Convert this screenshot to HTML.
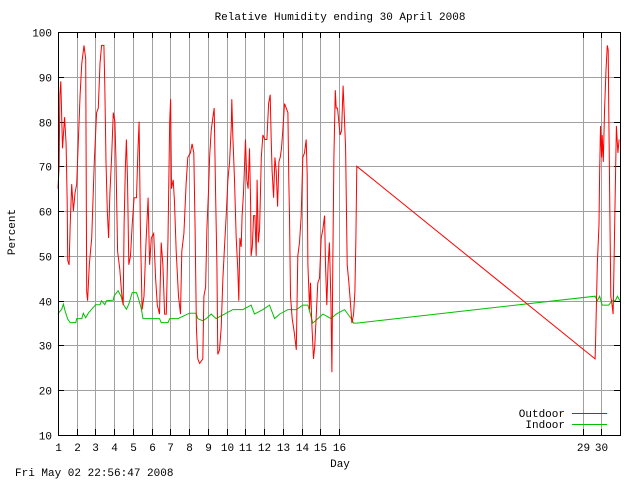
<!DOCTYPE html>
<html><head><meta charset="utf-8"><style>
body{margin:0;background:#fff;}
svg text{font-family:"Liberation Mono","DejaVu Sans Mono",monospace;font-size:11px;fill:#000;}
</style></head><body>
<svg id="chart" width="640" height="480" xmlns="http://www.w3.org/2000/svg">
<rect width="640" height="480" fill="#fff"/>
<text x="340" y="20" text-anchor="middle">Relative Humidity ending 30 April 2008</text>
<text x="15" y="232" text-anchor="middle" transform="rotate(-90 15 232)">Percent</text>
<text x="340" y="467" text-anchor="middle">Day</text>
<text x="15" y="476">Fri May 02 22:56:47 2008</text>
<g id="grid"></g>
<g id="series"></g>
<rect x="58.5" y="32.5" width="562" height="403" fill="none" stroke="#000"/>
<g>
<text x="565" y="417" text-anchor="end">Outdoor</text>
<line x1="572" y1="413.5" x2="607" y2="413.5" stroke="#ff0000"/>
<text x="565" y="428" text-anchor="end">Indoor</text>
<line x1="572" y1="424.5" x2="607" y2="424.5" stroke="#00c000"/>
</g>
</svg>
<script>
const yTicks=[10,20,30,40,50,60,70,80,90,100];
const xTickDays=[1,2,3,4,5,6,7,8,9,10,11,12,13,14,15,16,29,30];
const outdoorDays=[1.0,1.06,1.1,1.15,1.24,1.35,1.43,1.49,1.52,1.59,1.65,1.73,1.82,1.91,2.0,2.05,2.18,2.27,2.39,2.48,2.53,2.58,2.67,2.80,2.94,3.06,3.15,3.24,3.33,3.45,3.50,3.56,3.63,3.70,3.77,3.86,3.95,4.04,4.09,4.18,4.30,4.39,4.48,4.53,4.60,4.65,4.71,4.78,4.87,4.96,5.06,5.19,5.27,5.33,5.40,5.49,5.59,5.70,5.81,5.89,5.98,6.11,6.21,6.30,6.42,6.51,6.60,6.69,6.78,6.87,6.96,7.01,7.06,7.15,7.22,7.31,7.43,7.54,7.61,7.72,7.84,7.93,8.07,8.16,8.25,8.32,8.39,8.46,8.56,8.73,8.79,8.88,8.95,9.04,9.09,9.18,9.27,9.34,9.41,9.48,9.53,9.62,9.71,9.80,9.89,9.98,10.07,10.16,10.25,10.28,10.33,10.42,10.51,10.60,10.65,10.71,10.78,10.83,10.90,11.01,11.08,11.15,11.22,11.28,11.31,11.37,11.44,11.51,11.58,11.63,11.69,11.76,11.85,11.94,12.04,12.15,12.24,12.33,12.38,12.43,12.51,12.58,12.65,12.72,12.79,12.86,12.93,13.00,13.09,13.18,13.27,13.32,13.36,13.41,13.50,13.61,13.72,13.80,13.89,13.98,14.07,14.16,14.25,14.30,14.34,14.43,14.48,14.55,14.64,14.71,14.78,14.87,14.96,15.05,15.14,15.23,15.28,15.35,15.42,15.49,15.57,15.62,15.67,15.73,15.80,15.85,15.92,15.99,16.06,16.14,16.17,16.22,16.28,16.35,16.44,16.53,16.62,16.69,16.78,16.85,16.90,16.95,29.67,29.70,29.79,29.88,29.91,29.96,30.02,30.05,30.11,30.18,30.26,30.32,30.37,30.40,30.46,30.51,30.58,30.63,30.68,30.75,30.81,30.86,30.89,30.95];
const outdoorValues=[65,70,86,89,74,81,75,62,49,48,57,66,60,64,66,72,86,93,97,94,42,40,48,54,71,82,83,93,97,97,88,71,60,54,64,72,82,80,72,51,47,42,39,57,70,76,67,48,50,57,63,63,74,80,56,38,41,53,63,48,54,55,45,39,37,53,48,37,37,54,80,85,65,67,62,51,41,37,51,55,66,72,73,75,73,56,34,27,26,27,41,43,56,65,72,78,81,83,65,48,28,29,34,45,52,59,67,71,79,85,77,67,54,47,40,54,52,59,64,76,67,65,74,62,50,52,59,59,50,67,53,56,72,77,76,76,84,86,76,69,63,72,69,61,71,72,74,78,84,83,82,67,59,41,36,33,29,50,53,59,72,73,76,68,48,38,44,35,27,30,36,44,45,54,56,59,48,39,48,53,40,24,48,72,87,83,83,80,77,78,82,88,82,74,48,44,39,35,37,42,54,70,27,31,48,57,68,79,72,77,71,83,92,97,96,82,59,41,39,37,48,65,79,75,73,76];
const indoorDays=[1.0,1.06,1.20,1.29,1.38,1.52,1.65,1.95,2.0,2.27,2.35,2.48,2.62,2.80,3.01,3.24,3.33,3.50,3.59,3.95,4.0,4.21,4.35,4.48,4.65,4.78,4.96,5.19,5.31,5.45,5.54,6.42,6.51,6.87,6.96,7.40,8.02,8.37,8.46,8.73,8.91,9.18,9.44,9.89,10.33,10.87,11.31,11.49,11.94,12.29,12.56,12.83,13.27,13.72,14.07,14.34,14.60,15.14,15.58,15.85,16.30,16.65,16.78,16.95,29.67,29.79,29.91,30.05,30.40,30.58,30.75,30.86,31.0];
const indoorValues=[37,37.4,38.1,39.2,37.7,35.9,35.1,35.1,36,36,37.2,36.2,37.2,38.1,39.1,39.1,40,39.1,40,40.1,41.1,42.2,41.1,39.2,38.1,39.2,41.8,41.8,40.3,38.1,36,36,35.1,35.1,36,36,37.2,37.2,36,35.5,36,37,36,37,38,38,39,37,38,39,36,37,38,38,39,39,35,37,36,37,38,36,35,35,41,40,41,39,39,40,40,41,40];

const X0=58,X1=620,Y0=435,Y1=32;
function xs(d){return X0+(d-1)*(X1-X0)/30;}
function ys(v){return Y0-(v-10)*(Y0-Y1)/90;}
const NS="http://www.w3.org/2000/svg";
const grid=document.getElementById('grid');
function mk(tag,attrs,parent){const e=document.createElementNS(NS,tag);for(const k in attrs)e.setAttribute(k,attrs[k]);parent.appendChild(e);return e;}
yTicks.forEach(v=>{
  const y=Math.round(ys(v))+0.5;
  if(v>10&&v<100){const l=mk('line',{x1:X0,x2:X1,y1:y,y2:y,stroke:'#a0a0a0'},grid);
  
  }
  mk('line',{x1:X0,x2:X0+6,y1:y,y2:y,stroke:'#000'},grid);
  mk('line',{x1:X1-6,x2:X1,y1:y,y2:y,stroke:'#000'},grid);
  const t=mk('text',{x:52,y:y+4,'text-anchor':'end'},grid);
  
  
  t.textContent=v;
});
xTickDays.forEach(d=>{
  const x=Math.round(xs(d))+0.5;
  if(d>1){const l=mk('line',{x1:x,x2:x,y1:Y1,y2:Y0,stroke:'#a0a0a0'},grid);
  
  }
  mk('line',{x1:x,x2:x,y1:Y1,y2:Y1+6,stroke:'#000'},grid);
  mk('line',{x1:x,x2:x,y1:Y0-6,y2:Y0,stroke:'#000'},grid);
  const t=mk('text',{x:x,y:451,'text-anchor':'middle'},grid);
  
  
  t.textContent=d;
});
const series=document.getElementById('series');
function line(days,vals,color,name){
  const pts=days.map((d,i)=>xs(d).toFixed(1)+','+ys(vals[i]).toFixed(1)).join(' ');
  const p=mk('polyline',{points:pts,fill:'none',stroke:color,'stroke-width':1},series);
  
  
}
line(indoorDays,indoorValues,'#00c000','indoor-line');
line(outdoorDays,outdoorValues,'#ff0000','outdoor-line');
</script>
</body></html>
